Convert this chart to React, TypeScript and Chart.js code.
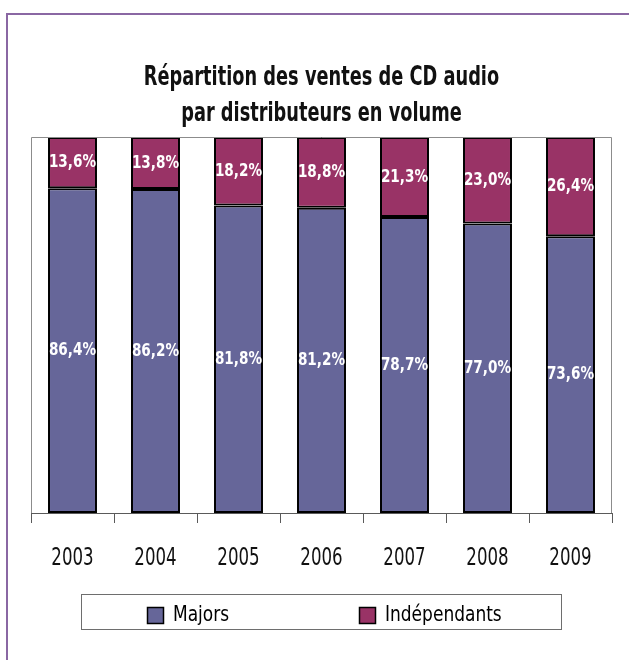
import React, { useEffect, useRef } from "react";
import { Chart, registerables } from "chart.js";

Chart.register(...registerables);

const categories = ["2003", "2004", "2005", "2006", "2007", "2008", "2009"];
const majors = [86.4, 86.2, 81.8, 81.2, 78.7, 77.0, 73.6];
const independants = [13.6, 13.8, 18.2, 18.8, 21.3, 23.0, 26.4];
const seriesNames = ["Majors", "Indépendants"];
const seriesColors = ["#666699", "#993366"];
const titleLines = ["Répartition des ventes de CD audio", "par distributeurs en volume"];

const FONT = "'DejaVu Sans Condensed', 'Liberation Sans Narrow', sans-serif";

const fmt = (v: number) => v.toFixed(1).replace(".", ",") + "%";

function squeezed(ctx: CanvasRenderingContext2D, text: string, x: number, y: number, sx: number) {
  ctx.save();
  ctx.translate(x, y);
  ctx.scale(sx, 1);
  ctx.fillText(text, 0, 0);
  ctx.restore();
}

const decorPlugin = {
  id: "decor",
  beforeDraw(chart: any) {
    const ctx = chart.ctx;
    ctx.save();
    ctx.fillStyle = "#ffffff";
    ctx.fillRect(0, 0, chart.width, chart.height);
    ctx.strokeStyle = "#8a67a3";
    ctx.lineWidth = 2;
    ctx.strokeRect(7, 14, chart.width + 20, chart.height + 20);
    // title
    const a = chart.chartArea;
    const cx = (a.left + a.right) / 2;
    ctx.fillStyle = "#111111";
    ctx.font = "bold 26px " + FONT;
    ctx.textAlign = "center";
    ctx.textBaseline = "alphabetic";
    squeezed(ctx, titleLines[0], cx, 85, 0.76);
    squeezed(ctx, titleLines[1], cx, 121, 0.76);
    ctx.restore();
  },
  afterDatasetsDraw(chart: any) {
    const ctx = chart.ctx;
    const a = chart.chartArea;
    ctx.save();
    ctx.strokeStyle = "#8c8c8c";
    ctx.lineWidth = 1;
    ctx.beginPath();
    ctx.moveTo(a.left + 0.5, a.bottom);
    ctx.lineTo(a.left + 0.5, a.top + 0.5);
    ctx.lineTo(a.right - 0.5, a.top + 0.5);
    ctx.lineTo(a.right - 0.5, a.bottom);
    ctx.stroke();
    // value labels
    ctx.fillStyle = "#ffffff";
    ctx.font = "bold 18px " + FONT;
    ctx.textAlign = "center";
    ctx.textBaseline = "middle";
    chart.data.datasets.forEach((ds: any, i: number) => {
      const meta = chart.getDatasetMeta(i);
      meta.data.forEach((bar: any, j: number) => {
        const p = bar.getProps(["x", "y", "base"], true);
        squeezed(ctx, fmt(ds.data[j]), p.x, (p.y + p.base) / 2, 0.84);
      });
    });
    // category labels through the x scale
    const xs = chart.scales.x;
    ctx.fillStyle = "#111111";
    ctx.font = "24px " + FONT;
    ctx.textBaseline = "middle";
    categories.forEach((c, i) => {
      squeezed(ctx, c, xs.getPixelForTick(i), 559, 0.77);
    });
    ctx.restore();
  },
  afterDraw(chart: any) {
    const ctx = chart.ctx;
    ctx.save();
    const lx = 81, ly = 594, lw = 480, lh = 35;
    ctx.strokeStyle = "#6e6e6e";
    ctx.lineWidth = 1;
    ctx.strokeRect(lx + 0.5, ly + 0.5, lw, lh);
    const items = [
      { x: 147, label: seriesNames[0], color: seriesColors[0] },
      { x: 359, label: seriesNames[1], color: seriesColors[1] },
    ];
    ctx.font = "22px " + FONT;
    ctx.textBaseline = "middle";
    ctx.textAlign = "left";
    items.forEach((it) => {
      ctx.fillStyle = it.color;
      ctx.fillRect(it.x, 607, 17, 17);
      ctx.strokeStyle = "#000000";
      ctx.lineWidth = 1.5;
      ctx.strokeRect(it.x + 0.5, 607.5, 16, 16);
      ctx.fillStyle = "#000000";
      squeezed(ctx, it.label, it.x + 26, 615, 0.86);
    });
    ctx.restore();
  },
};

export default function App() {
  const ref = useRef<HTMLCanvasElement | null>(null);
  useEffect(() => {
    if (!ref.current) return;
    const chart = new Chart(ref.current, {
      type: "bar",
      data: {
        labels: categories,
        datasets: [
          {
            label: seriesNames[0],
            data: majors,
            backgroundColor: seriesColors[0],
            borderColor: "#000000",
            borderWidth: 2,
            borderSkipped: false,
          },
          {
            label: seriesNames[1],
            data: independants,
            backgroundColor: seriesColors[1],
            borderColor: "#000000",
            borderWidth: 2,
            borderSkipped: false,
          },
        ],
      },
      options: {
        responsive: false,
        animation: false,
        devicePixelRatio: 1,
        layout: { padding: { left: 31, right: 17, top: 137, bottom: 87 } },
        datasets: { bar: { categoryPercentage: 1, barPercentage: 0.59 } },
        plugins: {
          legend: { display: false },
          tooltip: { enabled: false },
          title: { display: false },
        },
        scales: {
          x: {
            stacked: true,
            afterFit: (s: any) => { s.height = 60; },
            grid: {
              offset: true,
              drawOnChartArea: false,
              drawTicks: true,
              tickLength: 10,
              color: "#5a5a5a",
            },
            border: { display: true, color: "#5a5a5a", width: 1 },
            ticks: {
              color: "rgba(0,0,0,0)",
              padding: 22,
              font: { family: FONT, size: 24 },
            },
          },
          y: {
            stacked: true,
            display: false,
            min: 0,
            max: 100,
          },
        },
      },
      plugins: [decorPlugin],
    });
    return () => chart.destroy();
  }, []);
  return (
    <div style={{ position: "fixed", left: 0, top: 0, width: 629, height: 660 }}>
      <canvas ref={ref} width={629} height={660} style={{ width: 629, height: 660, display: "block" }} />
    </div>
  );
}
